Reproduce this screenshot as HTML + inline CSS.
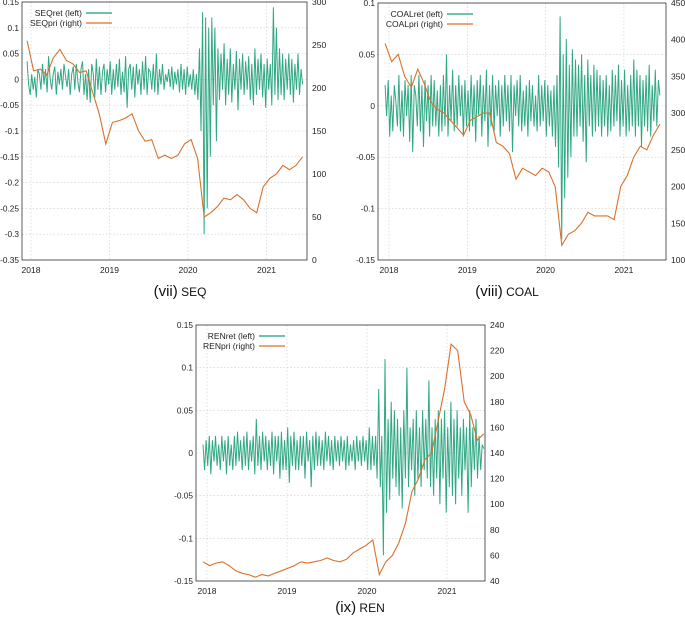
<!DOCTYPE html>
<html><head><meta charset="utf-8">
<style>
html,body{margin:0;padding:0;background:#fff;}
svg{display:block;font-family:"Liberation Sans",sans-serif;}
</style></head>
<body>
<svg id="fig" width="685" height="618" viewBox="0 0 685 618" xmlns="http://www.w3.org/2000/svg"></svg>
<script>
// ---------- data ----------
const yearTicks = [2018, 2019, 2020, 2021];
const tStart = 2017.95, tEnd = 2021.46;

const seqPrice = [255,220,222,215,235,245,232,228,218,220,195,170,135,160,162,165,170,150,138,140,118,122,118,122,135,140,118,50,55,62,72,70,76,70,60,55,85,95,100,110,105,110,120];
const seqRet = [0.035,-0.01,-0.03,0.01,-0.02,0.005,-0.035,0.02,0.01,-0.02,0.03,-0.01,0.02,-0.025,0.045,0,-0.02,0.01,0.025,-0.03,
0.015,-0.01,0.02,-0.02,0.03,0.005,-0.015,0.02,-0.03,0.01,0.025,-0.02,0.03,-0.005,-0.025,0.02,0.035,-0.03,0.01,-0.04,
0.02,-0.045,0.03,0.01,-0.035,0.04,-0.02,0.025,-0.03,0.015,0.03,-0.025,0.02,-0.01,0.035,-0.03,0.02,-0.02,0.03,-0.015,
0.04,-0.03,0.015,-0.025,0.045,-0.055,0.02,0.03,-0.02,0.025,-0.035,0.03,-0.01,0.02,-0.03,0.035,-0.02,0.045,-0.03,0.02,
0.015,-0.02,0.03,-0.025,0.05,-0.03,0.02,-0.01,0.03,-0.02,0.01,-0.005,0.02,-0.015,0.025,-0.02,0.015,-0.01,0.02,-0.025,
0.03,-0.02,0.02,-0.03,0.025,-0.015,0.01,-0.02,0.02,-0.03,0.01,-0.04,
0.06,-0.1,0.13,-0.3,0.12,-0.25,0.1,-0.15,0.12,-0.05,0.1,-0.12,
0.06,-0.04,0.05,-0.02,0.07,-0.05,0.04,-0.03,0.06,-0.045,0.03,-0.02,0.055,-0.06,0.04,-0.02,0.05,-0.03,0.035,-0.02,
0.045,-0.04,0.03,-0.05,0.06,-0.03,0.04,-0.02,0.05,-0.035,0.03,-0.055,0.04,-0.02,0.03,-0.05,0.14,-0.03,0.1,-0.04,
0.06,-0.03,0.05,-0.04,0.04,-0.02,0.05,-0.03,0.04,-0.045,0.03,-0.02,0.05,-0.03,0.02,-0.01];
const seqLeftTicks = [0.15,0.1,0.05,0,-0.05,-0.1,-0.15,-0.2,-0.25,-0.3,-0.35];
const seqRightTicks = [300,250,200,150,100,50,0];

const coalPrice = [395,370,380,350,335,360,340,315,305,300,290,280,270,290,295,300,300,260,255,245,210,225,220,215,225,220,200,120,135,140,150,165,160,160,160,155,200,215,240,255,250,270,285];
const coalRet = [0.02,-0.01,0.025,-0.03,0.01,-0.025,0.02,0.005,-0.02,0.03,-0.025,0.015,-0.03,0.025,-0.01,0.02,-0.035,0.03,-0.045,0.02,
0.01,-0.02,0.03,-0.025,0.02,-0.04,0.025,-0.015,0.02,-0.03,0.03,-0.02,0.025,-0.02,0.015,-0.03,0.02,-0.025,0.03,-0.02,
0.05,-0.03,0.02,-0.015,0.035,-0.025,0.02,-0.02,0.03,-0.01,0.02,-0.03,0.025,-0.02,0.015,-0.025,0.03,-0.02,0.02,-0.035,
0.025,-0.01,0.03,-0.03,0.02,-0.015,0.035,-0.04,0.02,-0.02,0.03,-0.025,0.02,-0.01,0.025,-0.03,0.02,-0.02,0.03,-0.015,
0.02,-0.025,0.03,-0.045,0.02,-0.01,0.025,-0.02,0.03,-0.025,0.015,-0.02,0.02,-0.03,0.025,-0.015,0.02,-0.02,0.01,-0.025,
0.03,-0.02,0.02,-0.015,0.025,-0.03,0.02,-0.02,0.015,-0.03,0.02,-0.04,
0.03,-0.06,0.087,-0.13,0.05,-0.09,0.065,-0.07,0.04,-0.05,0.055,-0.03,
0.045,-0.03,0.04,-0.02,0.05,-0.035,0.03,-0.055,0.045,-0.02,0.03,-0.03,0.04,-0.025,0.035,-0.02,0.03,-0.03,0.025,-0.02,
0.03,-0.03,0.02,-0.025,0.035,-0.02,0.03,-0.015,0.04,-0.03,0.025,-0.02,0.035,-0.03,0.02,-0.025,0.03,-0.02,0.045,-0.03,
0.035,-0.02,0.03,-0.04,0.025,-0.02,0.03,-0.025,0.04,-0.03,0.02,-0.015,0.035,-0.02,0.025,0.01];
const coalLeftTicks = [0.1,0.05,0,-0.05,-0.1,-0.15];
const coalRightTicks = [450,400,350,300,250,200,150,100];

const renPrice = [55,52,54,55,52,48,46,45,43,45,44,46,48,50,52,55,54,55,56,58,56,55,57,62,65,68,72,45,55,60,70,85,110,120,135,140,165,190,225,220,180,170,150,155];
const renRet = [0.01,-0.02,0.015,-0.015,0.02,-0.025,0.015,-0.01,0.02,-0.015,0.01,-0.02,0.02,-0.01,0.015,-0.025,0.02,-0.015,0.01,-0.02,
0.02,-0.015,0.025,-0.01,0.015,-0.02,0.02,-0.015,0.025,-0.02,0.015,-0.01,0.02,-0.025,0.04,-0.015,0.02,-0.02,0.025,-0.01,
0.02,-0.02,0.015,-0.015,0.025,-0.025,0.02,-0.01,0.02,-0.03,0.025,-0.02,0.015,-0.02,0.03,-0.035,0.02,-0.015,0.025,-0.02,
0.015,-0.02,0.02,-0.015,0.02,-0.03,0.025,-0.01,0.015,-0.04,0.02,-0.02,0.025,-0.015,0.02,-0.015,0.015,-0.02,0.025,-0.01,
0.02,-0.015,0.015,-0.02,0.02,-0.01,0.015,-0.015,0.02,-0.01,0.015,-0.02,0.02,-0.015,0.01,-0.01,0.015,-0.02,0.02,-0.01,
0.015,-0.015,0.02,-0.01,0.015,-0.02,0.03,-0.02,0.02,-0.015,0.02,-0.03,
0.075,-0.04,0.02,-0.12,0.11,-0.07,0.04,-0.055,0.06,-0.03,0.05,-0.04,
0.04,-0.05,0.03,-0.065,0.05,-0.03,0.1,-0.04,0.03,-0.02,0.04,-0.05,0.05,-0.03,0.03,-0.04,0.05,-0.02,0.04,-0.03,
0.085,-0.04,0.03,-0.05,0.04,-0.03,0.05,-0.06,0.04,-0.03,0.05,-0.07,0.03,-0.04,0.06,-0.05,0.04,-0.06,0.05,-0.03,
0.03,-0.05,0.04,-0.02,0.03,-0.07,0.05,-0.04,0.03,-0.02,0.04,-0.03,0.02,-0.02,0.01,0.005];
const renLeftTicks = [0.15,0.1,0.05,0,-0.05,-0.1,-0.15];
const renRightTicks = [240,220,200,180,160,140,120,100,80,60,40];

// ---------- drawing ----------
const NS = "http://www.w3.org/2000/svg";
const svg = document.getElementById('fig');
function el(tag, attrs, parent){
  const e = document.createElementNS(NS, tag);
  for (const k in attrs) e.setAttribute(k, attrs[k]);
  (parent||svg).appendChild(e);
  return e;
}
const GREEN = "#1b9e77", ORANGE = "#d9712a";

function panel(cfg){
  const g = el('g', {});
  
  
  const {x0,x1,y0,y1} = cfg;
  const xs = t => x0 + (t - cfg.tx0) / (cfg.tx1 - cfg.tx0) * (x1 - x0);
  const yl = v => y1 - (v - cfg.lmin) / (cfg.lmax - cfg.lmin) * (y1 - y0);
  const yr = v => y1 - (v - cfg.rmin) / (cfg.rmax - cfg.rmin) * (y1 - y0);
  cfg.leftTicks.forEach(v => {
    const y = yl(v);
    const l = el('line', {x1:x0,x2:x1,y1:y,y2:y,stroke:'#ccc','stroke-width':0.6,'stroke-dasharray':'1.5,2'}, g);
    
    
    const t = el('text', {x:x0-3,y:y+3,'text-anchor':'end','font-size':8.3,fill:'#222'}, g);
    t.textContent = String(v);
    
    
  });
  cfg.rightTicks.forEach(v => {
    const y = yr(v);
    const t = el('text', {x:x1+5,y:y+3,'text-anchor':'start','font-size':8.5,fill:'#222'}, g);
    t.textContent = String(v);
    
    
  });
  yearTicks.forEach(v => {
    const x = xs(v);
    const l = el('line', {x1:x,x2:x,y1:y0,y2:y1,stroke:'#ccc','stroke-width':0.6,'stroke-dasharray':'1.5,2'}, g);
    
    
    const t = el('text', {x:x,y:y1+13,'text-anchor':'middle','font-size':8.5,fill:'#222'}, g);
    t.textContent = String(v);
    
    
  });
  const n = cfg.ret.length;
  let d = cfg.ret.map((v,i) => (i?'L':'M') + xs(tStart + i*(tEnd-tStart)/(n-1)).toFixed(1) + ',' + yl(v).toFixed(1)).join('');
  const rp = el('path', {d:d, fill:'none', stroke:GREEN, 'stroke-width':1, 'stroke-opacity':0.9}, g);
  
  
  const m = cfg.price.length;
  d = cfg.price.map((v,i) => (i?'L':'M') + xs(tStart + i*(tEnd-tStart)/(m-1)).toFixed(1) + ',' + yr(v).toFixed(1)).join('');
  const pp = el('path', {d:d, fill:'none', stroke:ORANGE, 'stroke-width':1.1}, g);
  
  
  const fr = el('rect', {x:x0,y:y0,width:x1-x0,height:y1-y0,fill:'none',stroke:'#333','stroke-width':0.8}, g);
  
  
  const lg = el('g', {}, g);
  
  
  const lx = x0 + cfg.legX;
  [[cfg.name.toUpperCase()+'ret  (left)', GREEN, 11],[cfg.name.toUpperCase()+'pri  (right)', ORANGE, 21]].forEach(([lab,col,dy]) => {
    const t = el('text', {x:lx,y:y0+dy+3,'text-anchor':'end','font-size':8.5,fill:'#222'}, lg);
    t.textContent = lab;
    
    
    const l = el('line', {x1:lx+4,x2:lx+30,y1:y0+dy,y2:y0+dy,stroke:col,'stroke-width':1.2}, lg);
    
    
  });
  const c = el('text', {x:cfg.capX,y:cfg.capY,'text-anchor':'middle',fill:'#111'}, g);
  
  
  const s1 = el('tspan', {'font-size':15}, c); s1.textContent = cfg.capA;
  const s2 = el('tspan', {'font-size':12}, c); s2.textContent = ' ' + cfg.capB;
}

panel({name:'seq', x0:22,x1:307,y0:2,y1:260, tx0:2018-9/78.5, tx1:2018+(307-31)/78.5,
  lmin:-0.35,lmax:0.15,rmin:0,rmax:300, leftTicks:seqLeftTicks, rightTicks:seqRightTicks,
  ret:seqRet, price:seqPrice, legX:60, capX:180, capY:296, capA:'(vii)', capB:'SEQ'});
panel({name:'coal', x0:378,x1:666,y0:3,y1:260, tx0:2018-11/78.3, tx1:2018+(666-389)/78.3,
  lmin:-0.15,lmax:0.1,rmin:100,rmax:450, leftTicks:coalLeftTicks, rightTicks:coalRightTicks,
  ret:coalRet, price:coalPrice, legX:65, capX:507, capY:296, capA:'(viii)', capB:'COAL'});
panel({name:'ren', x0:196,x1:485,y0:325,y1:581, tx0:2018-11/80, tx1:2018+(485-207)/80,
  lmin:-0.15,lmax:0.15,rmin:40,rmax:240, leftTicks:renLeftTicks, rightTicks:renRightTicks,
  ret:renRet, price:renPrice, legX:59, capX:360, capY:612, capA:'(ix)', capB:'REN'});
</script>
</body></html>
